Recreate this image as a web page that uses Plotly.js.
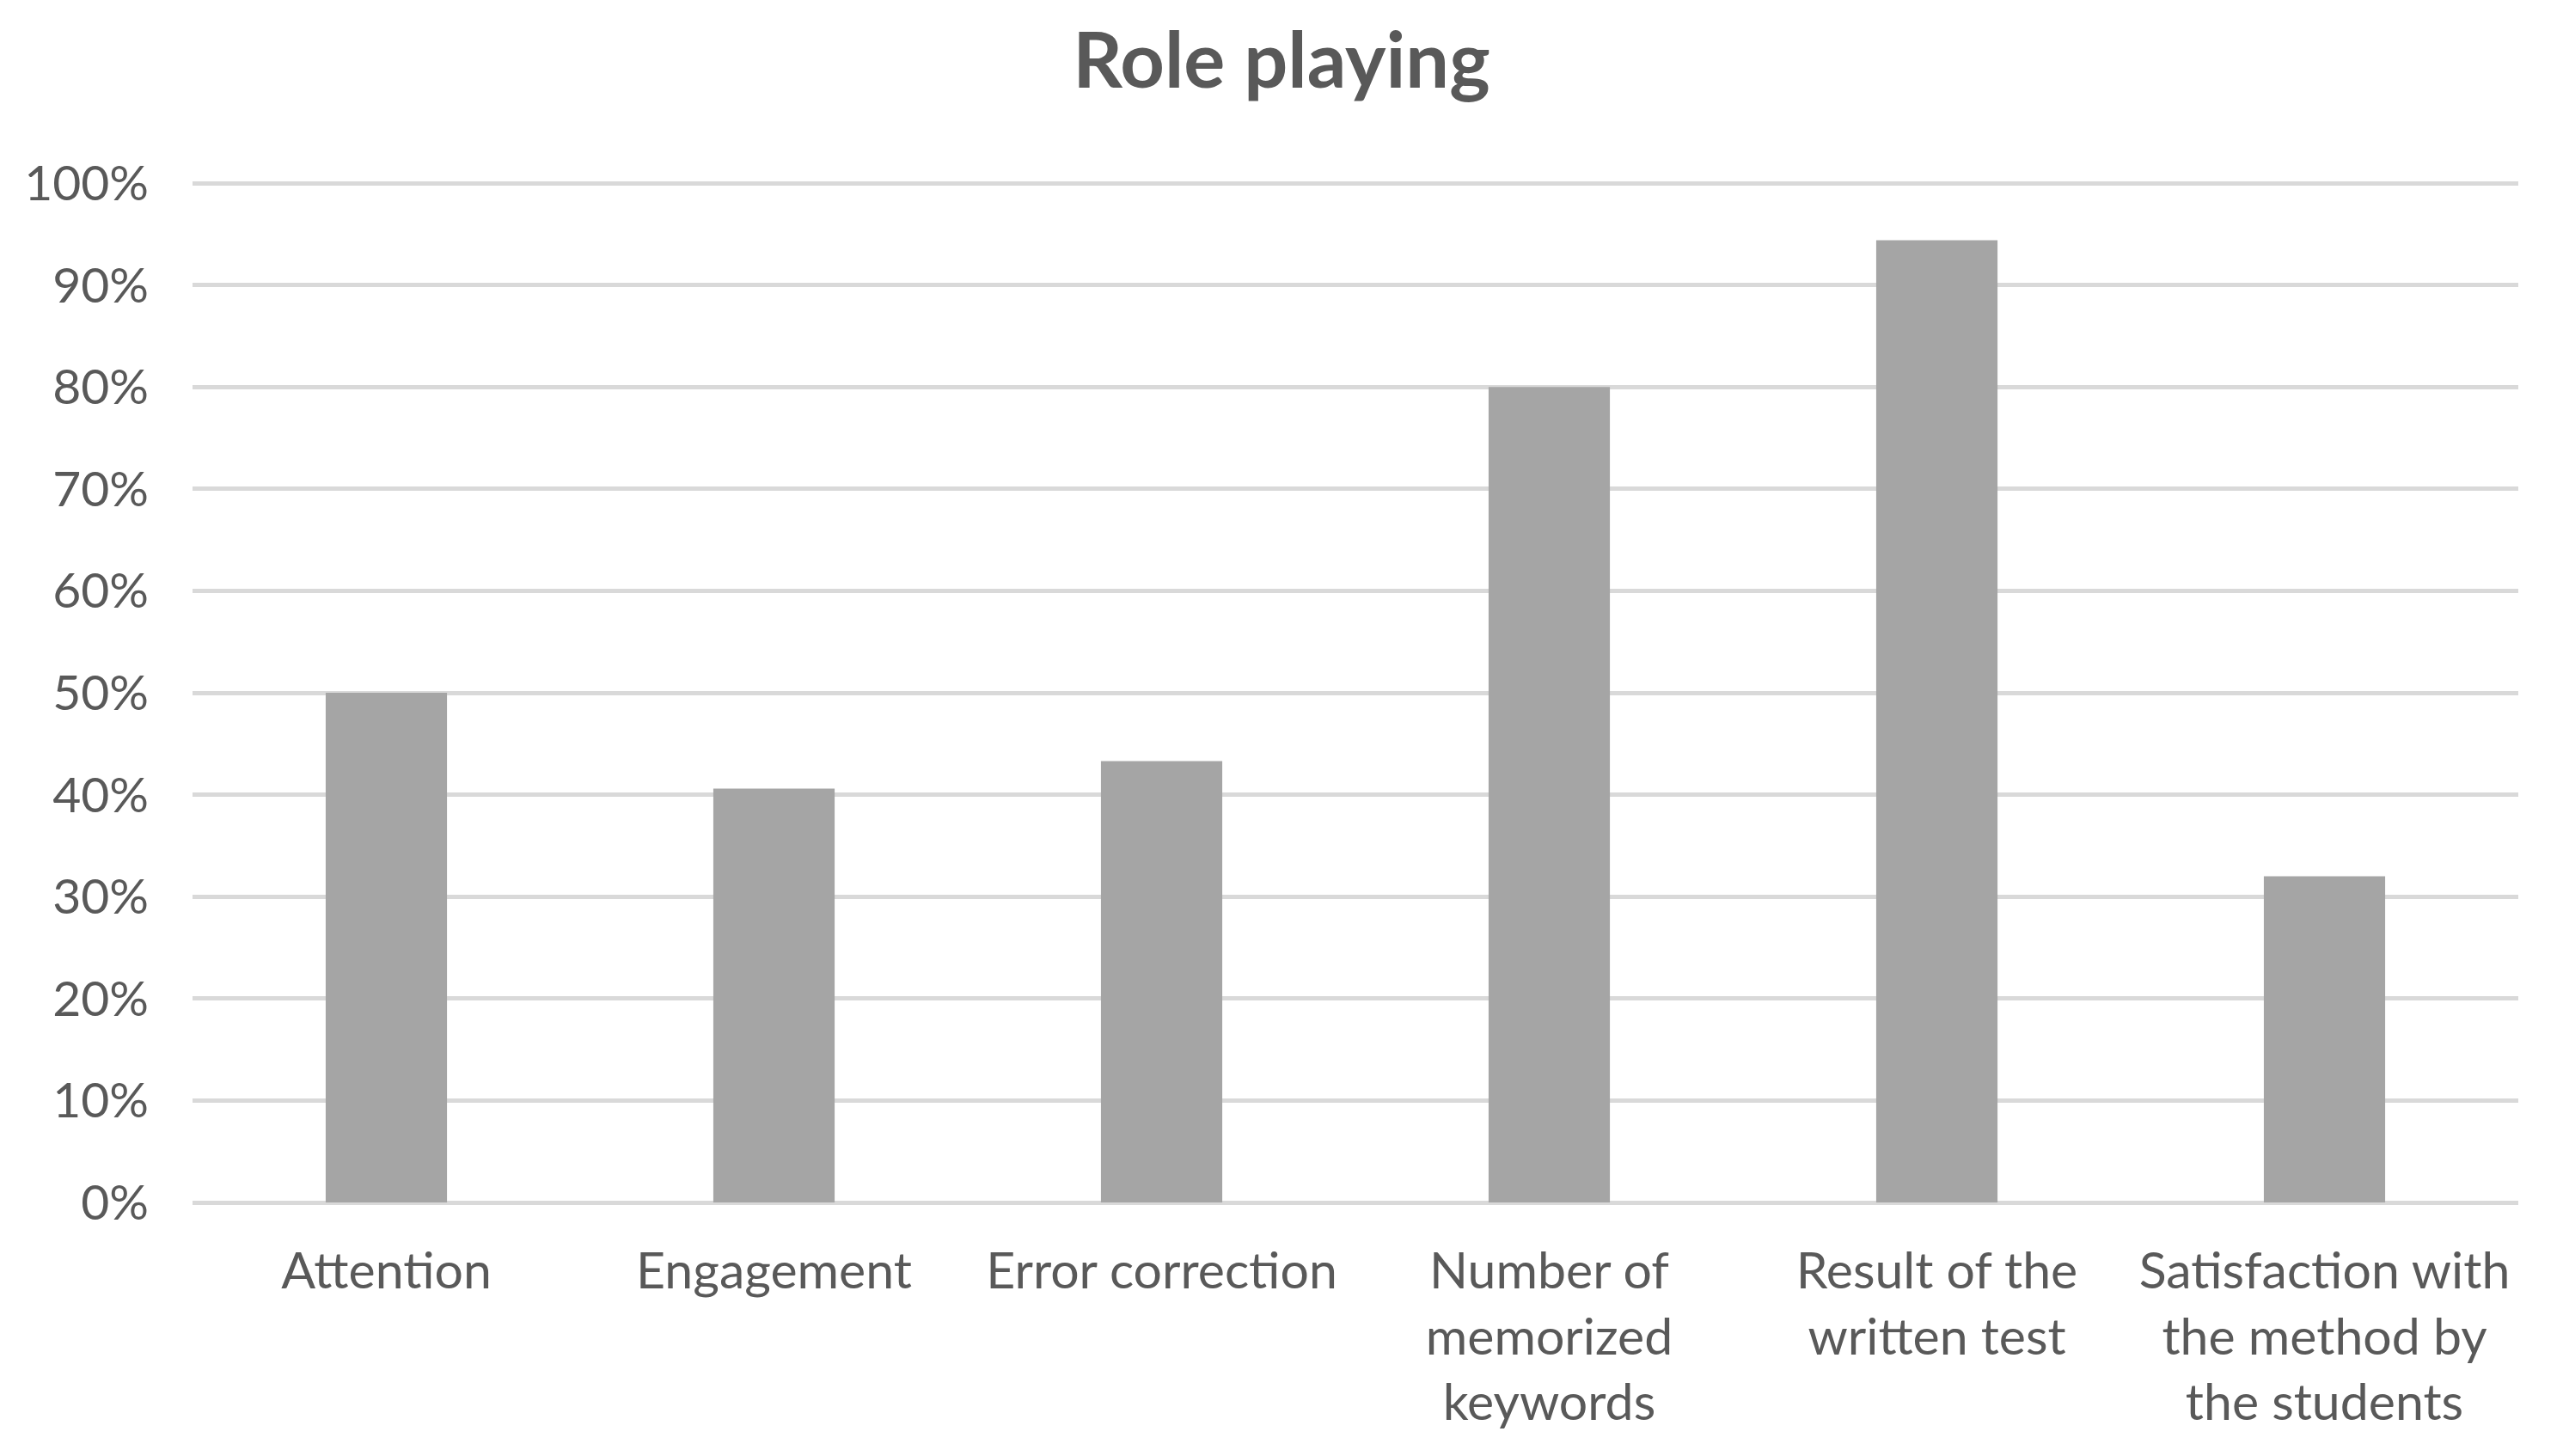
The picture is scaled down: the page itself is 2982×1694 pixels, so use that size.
<!DOCTYPE html>
<html>
<head>
<meta charset="utf-8">
<script src="https://cdn.plot.ly/plotly-3.0.1.min.js"></script>
<style>
  html, body { margin: 0; padding: 0; background: #fff; }
  #chart { width: 2982px; height: 1694px; }
</style>
</head>
<body>
<div id="chart"></div>
<script>
// categories as they appear on the x axis (line breaks as in the picture)
const categorias = [
  "Attention",
  "Engagement",
  "Error correction",
  "Number of<br>memorized<br>keywords",
  "Result of the<br>written test",
  "Satisfaction with<br>the method by<br>the students"
];

// values (fraction of 1)
const valores = [0.50, 0.406, 0.433, 0.80, 0.944, 0.32];

const ticksY = [0, 0.1, 0.2, 0.3, 0.4, 0.5, 0.6, 0.7, 0.8, 0.9, 1.0];
const etiquetasY = ["0%", "10%", "20%", "30%", "40%", "50%", "60%", "70%", "80%", "90%", "100%"];

const gris = "#595959";

Plotly.newPlot("chart", [
  {
    x: categorias,
    y: valores,
    type: "bar",
    marker: { color: "#a5a5a5" },
    hoverinfo: "skip"
  }
], {
  width: 2982,
  height: 1694,
  margin: { l: 224, r: 52, t: 212, b: 295 },
  paper_bgcolor: "#ffffff",
  plot_bgcolor: "#ffffff",
  showlegend: false,
  bargap: 0.687,
  font: { family: "Lato, 'Open Sans', sans-serif", color: gris, size: 57 },
  title: {
    text: "<b>Role playing</b>",
    font: { family: "Lato, 'Open Sans', sans-serif", size: 90, color: gris },
    x: 0.5,
    xref: "container",
    xanchor: "center",
    y: 1 - 70 / 1694,
    yref: "container",
    yanchor: "middle"
  },
  xaxis: {
    type: "category",
    showgrid: false,
    showline: false,
    zeroline: false,
    ticks: "",
    ticklabelstandoff: 40,
    tickfont: { size: 59, color: gris }
  },
  yaxis: {
    // a hair above 1 so the 100% gridline is drawn
    range: [0, 1.001],
    tickvals: ticksY,
    ticktext: etiquetasY,
    showgrid: true,
    gridcolor: "#d9d9d9",
    gridwidth: 5,
    zeroline: true,
    zerolinecolor: "#d9d9d9",
    zerolinewidth: 5,
    showline: false,
    ticks: "",
    ticklabelstandoff: 50,
    tickfont: { size: 57, color: gris }
  }
}, { staticPlot: true });
</script>
</body>
</html>
